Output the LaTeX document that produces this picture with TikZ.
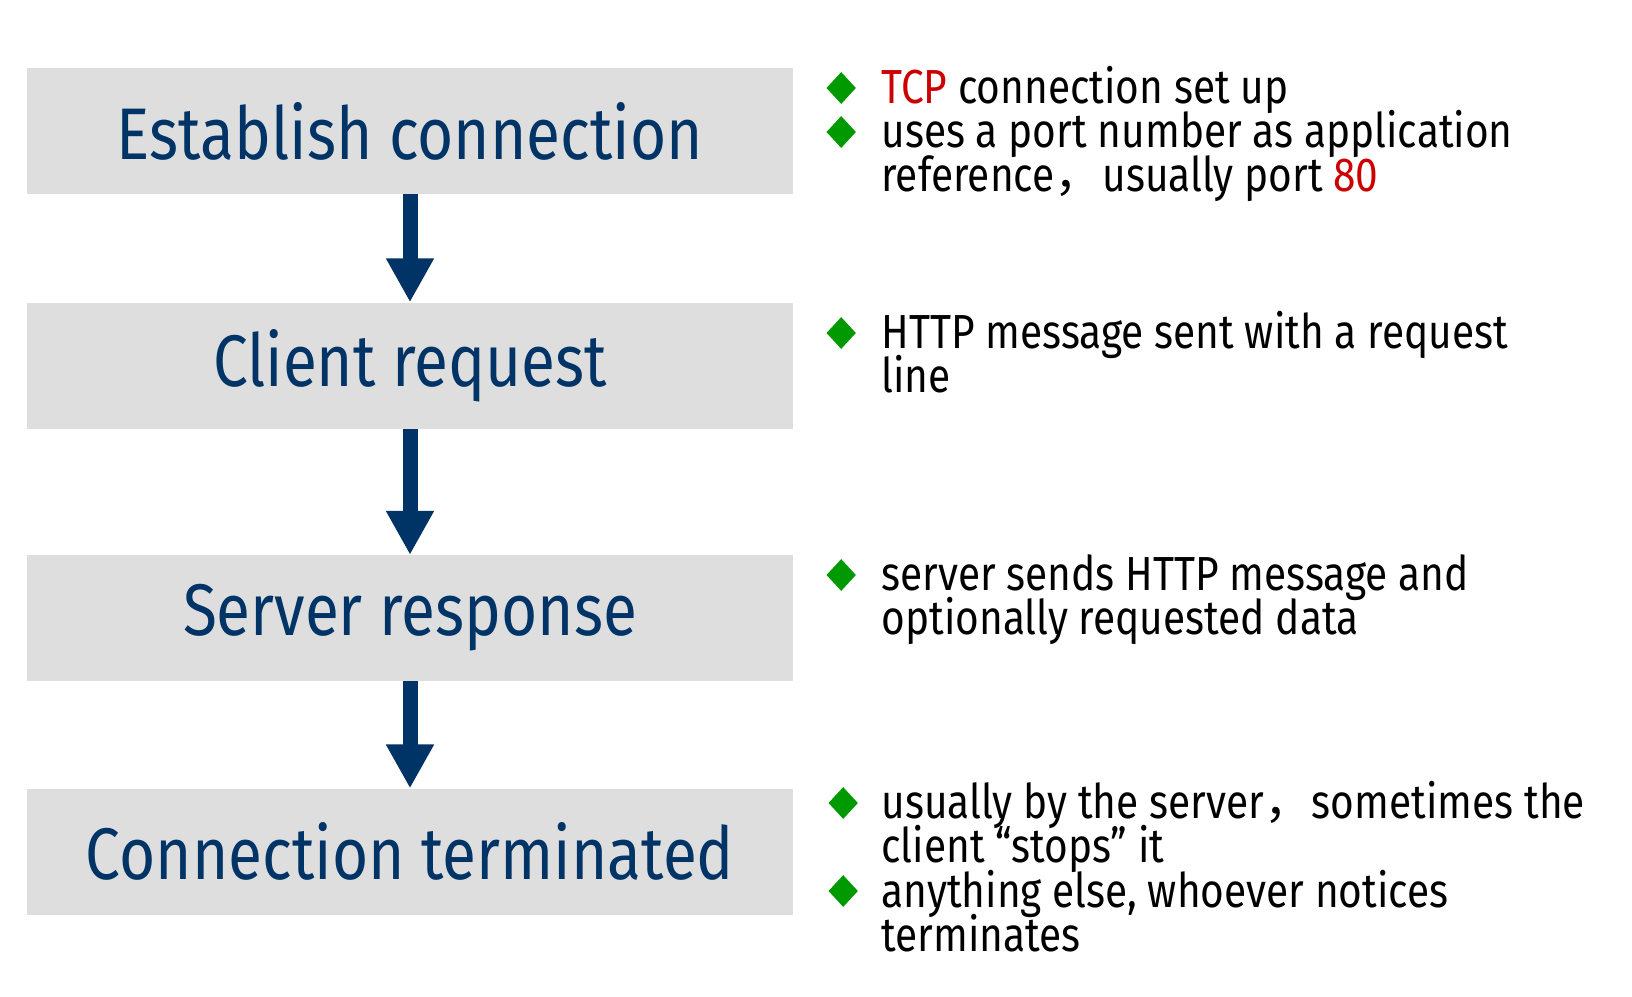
\documentclass[tikz,border=0pt]{standalone}
\usepackage{fontspec}
\setmainfont{Fira Sans}[FakeStretch=0.85]
\newfontfamily\cjk{Noto Sans CJK SC}
\usepackage{xcolor}
\usetikzlibrary{positioning,arrows.meta,shapes.geometric}
\definecolor{stagegray}{RGB}{222,222,222}
\definecolor{navy}{RGB}{0,51,102}
\definecolor{bulgreen}{RGB}{0,153,0}
\definecolor{hlred}{RGB}{204,0,0}

\begin{document}
\begin{tikzpicture}[
  stage/.style={fill=stagegray, inner sep=0pt, minimum width=19.15cm, minimum height=3.15cm, text=navy, font=\fontsize{52}{60}\selectfont},
  flow/.style={draw=navy, line width=0.375cm, -{Triangle[width=1.125cm, length=1.1cm]}},
  item/.style={anchor=base west, inner sep=0pt, align=left, font={\fontsize{34}{31.3}\selectfont\lineskiplimit=-30pt}},
  bul/.style={diamond, fill=bulgreen, inner sep=0pt, minimum width=0.74cm, minimum height=0.8cm}
]
\useasboundingbox (0,0) rectangle (40.8,-24.9);
\node[stage] (est) at (10.25,-3.275) {Establish connection};
\node[stage, below=2.7cm of est] (req) {Client request};
\node[stage, below=3.15cm of req] (resp) {Server response};
\node[stage, below=2.675cm of resp] (term) {Connection terminated};
\draw[flow] (est) -- (req);
\draw[flow] (req) -- (resp);
\draw[flow] (resp) -- (term);
\node[item] (tcp) at (22.03,-2.58) {\textcolor{hlred}{TCP} connection set up};
\node[item] (port) at (22.03,-4.78) {uses a port number as application\\reference{\cjk ，}usually port \textcolor{hlred}{80}};
\node[item] (reqline) at (22.03,-9.8) {HTTP message sent with a request\\line};
\node[item] (send) at (22.03,-15.86) {server sends HTTP message and\\optionally requested data};
\node[item] (stop) at (22.03,-21.56) {usually by the server{\cjk ，}sometimes the\\client ``stops'' it};
\node[item] (else) at (22.03,-23.78) {anything else, whoever notices\\terminates};
\node[bul] (b1) at (21.03,-2.2) {};
\node[bul] (b2) at (21.03,-3.3) {};
\node[bul] (b3) at (21.03,-8.325) {};
\node[bul] (b4) at (21.03,-14.375) {};
\node[bul] (b5) at (21.08,-20.075) {};
\node[bul] (b6) at (21.08,-22.275) {};
\end{tikzpicture}
\end{document}
